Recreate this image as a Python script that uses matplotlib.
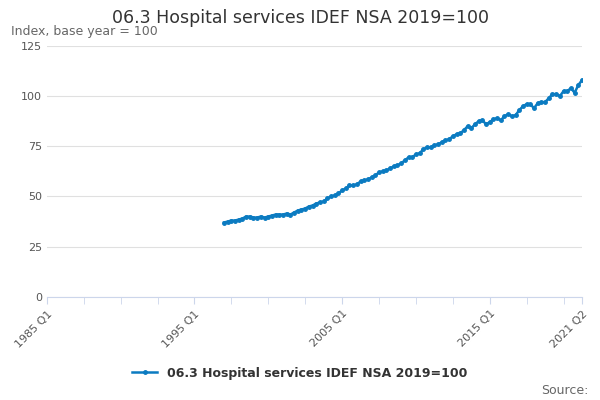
import numpy as np
import matplotlib
matplotlib.use("Agg")
import matplotlib.pyplot as plt

# quarterly index values, 1997 Q1 .. 2021 Q2
start_year = 1997
values = [
    37, 37.5, 38, 38,
    38.5, 39, 40, 40,
    39.5, 39.5, 40, 39.5,
    40, 40.5, 41, 41,
    41, 41.5, 41, 42,
    43, 43.5, 44, 45,
    45.5, 46.5, 47, 47.5,
    49, 50, 50.5, 51.5,
    53, 54, 55.5, 55.5,
    56, 57.5, 58, 58.5,
    59.5, 60.5, 62, 62.5,
    63, 64, 65, 65.5,
    66.5, 68, 69.5, 69.5,
    71, 71.5, 73.5, 74.5,
    74.5, 75.5, 76, 77,
    78, 78.5, 80, 81,
    81.5, 83, 85, 84,
    86, 87.5, 88, 86,
    87, 88.5, 89, 88,
    90, 91, 90, 90.5,
    93, 95, 96, 96,
    94, 96.5, 97, 97,
    99, 101, 101, 100,
    102.5, 102.5, 104, 101.7,
    105.5, 108,
]
tick_labels = ["1985 Q1", "1995 Q1", "2005 Q1", "2015 Q1", "2021 Q2"]
tick_pos_q = [0, 40, 80, 120, 145]  # quarters since 1985 Q1

x = np.arange(len(values)) + (start_year - 1985) * 4
color = "#0b7bc1"

fig = plt.figure(figsize=(6, 4), dpi=100)
ax = fig.add_axes([0.078, 0.258, 0.892, 0.627])
ax.plot(x, values, color=color, lw=1.8, marker="o", ms=2.5,
        label="06.3 Hospital services IDEF NSA 2019=100")
ax.set_xlim(0, 145)
ax.set_ylim(0, 125)
ax.set_yticks([0, 25, 50, 75, 100, 125])
ax.grid(axis="y", color="#e0e0e0", lw=0.8)
ax.set_axisbelow(True)
for s in ["top", "right", "left"]:
    ax.spines[s].set_visible(False)
ax.spines["bottom"].set_color("#ccd6eb")
ax.tick_params(axis="y", length=0, labelsize=8, colors="#555555")
ax.set_xticks(np.arange(0, 146, 10), minor=True)
ax.set_xticks(tick_pos_q)
ax.set_xticklabels(tick_labels, rotation=45, ha="right", rotation_mode="anchor",
                   fontsize=8, color="#555555")
ax.tick_params(axis="x", which="both", length=5, color="#ccd6eb")

fig.text(0.5, 0.955, "06.3 Hospital services IDEF NSA 2019=100", ha="center",
         va="center", fontsize=12.5, color="#333333")
fig.text(0.018, 0.92, "Index, base year = 100", ha="left", va="center",
         fontsize=9, color="#666666")
leg = fig.legend(loc="center", bbox_to_anchor=(0.5, 0.067), frameon=False,
                 prop={"size": 9, "weight": "bold"}, handlelength=2)
for t in leg.get_texts():
    t.set_color("#333333")
fig.text(0.98, 0.025, "Source:", ha="right", va="center", fontsize=9, color="#666666")

fig.savefig("out.png", dpi=100)
